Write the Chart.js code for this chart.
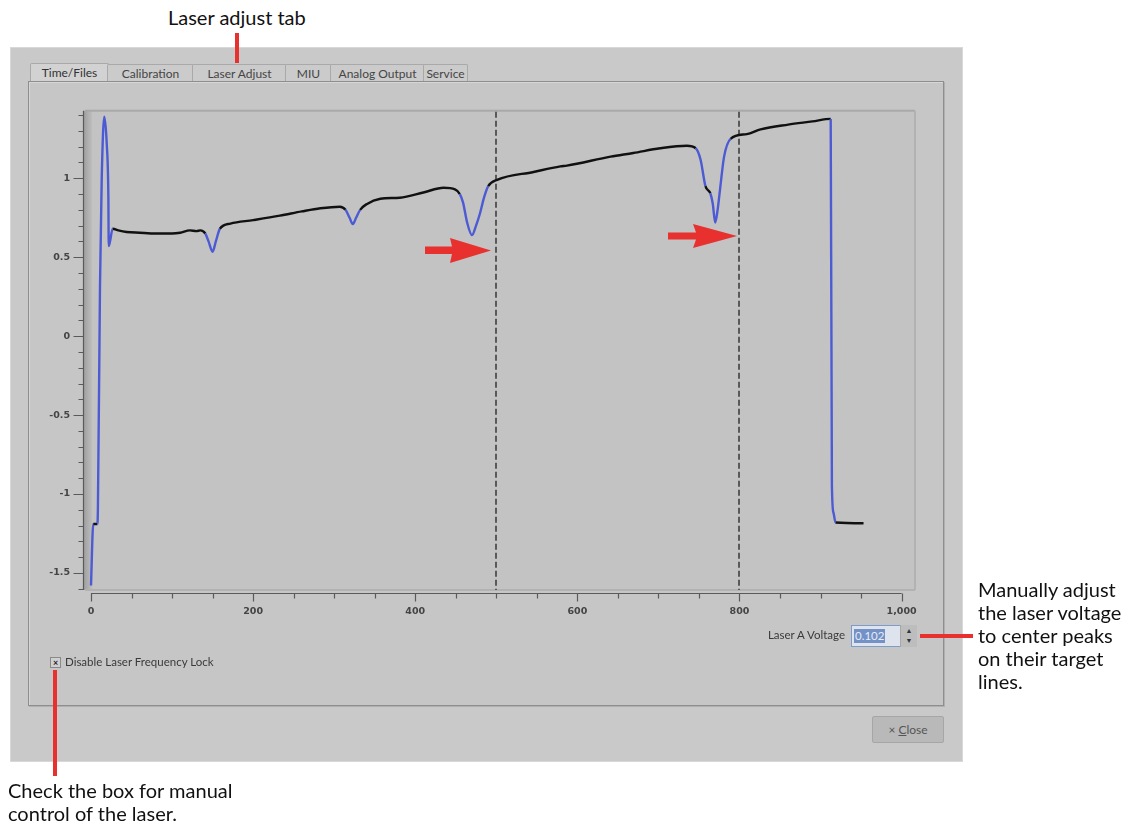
<!DOCTYPE html>
<html>
<head>
<meta charset="utf-8">
<title>Laser Adjust</title>
<script src="https://cdn.jsdelivr.net/npm/chart.js@4.4.0/dist/chart.umd.min.js"></script>
<style>
  body { margin: 0; width: 1134px; height: 823px; background: #fff; position: relative; overflow: hidden; font-family: Lato, "Open Sans", sans-serif; }
  .abs { position: absolute; }
  .note { position: absolute; font-family: Lato, sans-serif; font-size: 20px; line-height: 23px; color: #111; white-space: nowrap; }
  .red { position: absolute; background: #e8312f; z-index: 5; }
  #win { left: 10px; top: 47px; width: 951px; height: 713px; background: #c9c9c9; border: 1px solid #d8d8d8; }
  .tab { position: absolute; top: 64px; height: 17px; border: 1px solid #a9a9a9; border-bottom: none; background: #cbcbcb; font-size: 12px; line-height: 17px; color: #454545; text-align: center; border-radius: 2px 2px 0 0; }
  .tab.on { background: #d2d2d2; top: 63px; height: 18px; color: #333; }
  #panel { left: 28px; top: 81px; width: 914px; height: 623px; background: #c6c6c6; border: 1px solid #8e8e8e; box-shadow: inset 1px 1px 0 #d6d6d6, 1px 1px 0 #b0b0b0; }
  #scan { position: absolute; left: 30px; top: 90px; }
  .ui { position: absolute; font-family: Lato, sans-serif; font-size: 11.5px; color: #3a3a3a; white-space: nowrap; }
</style>
</head>
<body>

<div id="win" class="abs"></div>

<div class="note" style="left:168px; top:6px;">Laser adjust tab</div>
<div class="red" style="left:235px; top:33px; width:4px; height:30px;"></div>

<div class="tab on" style="left:30px; width:77px;">Time/Files</div>
<div class="tab" style="left:107px; width:85px;">Calibration</div>
<div class="tab" style="left:192px; width:93px;">Laser Adjust</div>
<div class="tab" style="left:285px; width:45px;">MIU</div>
<div class="tab" style="left:330px; width:93px;">Analog Output</div>
<div class="tab" style="left:423px; width:43px;">Service</div>

<div id="panel" class="abs"></div>

<canvas id="scan" width="910" height="540"></canvas>

<svg class="abs" style="left:0; top:0; pointer-events:none;" width="1134" height="823">
  <polygon points="425,246.5 452,246.5 450,238 491,250.5 450,263 452,254 425,254" fill="#e8312f"/>
  <polygon points="668,232.5 696,232.5 693,224 737,236 693,248 696,239.5 668,239.5" fill="#e8312f"/>
</svg>

<div class="ui" style="right:289px; top:628px;">Laser A Voltage</div>
<div class="abs" style="left:851px; top:625px; width:48px; height:20px; background:#dde4ee; border:1px solid #7f9cc8;">
  <span class="ui" style="position:absolute; left:2px; top:3px; background:#7391c6; color:#e6ecf6; padding:0 1px; line-height:14px;">0.102</span>
</div>
<div class="abs" style="left:900px; top:625px; width:16px; height:22px; background:#bdbdbd; border-left:1px solid #a8a8a8; font-size:7px; line-height:10px; text-align:center; color:#333;">▲<br>▼</div>

<div class="abs" style="left:50px; top:657px; width:9px; height:9px; background:#d0d0d0; border:1px solid #8a8a8a; font-size:9px; line-height:9px; text-align:center; color:#222; font-weight:bold;">×</div>
<div class="ui" style="left:65px; top:655px;">Disable Laser Frequency Lock</div>

<div class="abs" style="left:872px; top:716px; width:70px; height:25px; background:#b9b9b9; border:1px solid #a6a6a6; border-radius:2px; font-family:Lato,sans-serif; font-size:12px; line-height:25px; text-align:center; color:#555;">×&nbsp;<u>C</u>lose</div>

<div class="note" style="left:978px; top:578px;">Manually adjust<br>the laser voltage<br>to center peaks<br>on their target<br>lines.</div>
<div class="red" style="left:920px; top:634px; width:53px; height:4px;"></div>

<div class="red" style="left:53px; top:670px; width:4px; height:106px;"></div>
<div class="note" style="left:8px; top:779px;">Check the box for manual<br>control of the laser.</div>

<script>
// scan trace (x = sample index, y = detector volts)
const scanX = [0, 2.8, 7.8, 8.5, 11.1, 13.2, 16.4, 19.4, 21.4, 21.9, 26.8, 33.7, 44, 60, 80, 100, 110, 122, 130, 135, 141, 145, 150, 154, 159, 172, 200, 233, 260, 283, 307, 314, 319, 323, 327, 332, 340, 357, 381, 410, 435, 449, 455, 459, 464, 470, 475, 480, 485, 490, 501, 546, 579, 587, 641, 669, 702, 735, 746, 752, 758, 764, 767, 770, 773, 776, 781, 789, 809, 826, 860, 890, 912.5, 914, 916, 918.5, 953];
const scanY = [-1.58, -1.19, -1.19, -1.10, 0.32, 0.99, 1.39, 1.22, 0.89, 0.57, 0.68, 0.67, 0.66, 0.655, 0.65, 0.65, 0.655, 0.67, 0.665, 0.67, 0.65, 0.60, 0.535, 0.60, 0.68, 0.713, 0.735, 0.763, 0.79, 0.81, 0.82, 0.80, 0.75, 0.71, 0.75, 0.80, 0.836, 0.87, 0.877, 0.91, 0.94, 0.93, 0.90, 0.846, 0.72, 0.64, 0.70, 0.78, 0.88, 0.95, 0.99, 1.04, 1.075, 1.08, 1.137, 1.16, 1.19, 1.206, 1.19, 1.117, 0.95, 0.905, 0.84, 0.72, 0.80, 0.93, 1.137, 1.25, 1.28, 1.31, 1.34, 1.36, 1.376, -0.95, -1.12, -1.18, -1.185];

const targetLines = [500, 800];
const xLabels = [0, 200, 400, 600, 800, 1000];
const yLabels = [-1.5, -1, -0.5, 0, 0.5, 1];

const isLabel = (list, v) => list.some(l => Math.abs(l - v) < 1e-6);

// grey plot frame, target lines and hand drawn tick marks
const frame = {
    id: 'frame',
    beforeDraw(chart) {
        const {ctx, chartArea: a} = chart;
        ctx.save();
        ctx.fillStyle = '#c3c3c3';
        ctx.fillRect(a.left, a.top, a.right - a.left, a.bottom - a.top);
        let g = ctx.createLinearGradient(a.left - 1, 0, a.left + 7, 0);
        g.addColorStop(0, '#a0a0a0');
        g.addColorStop(1, '#bdbdbd');
        ctx.fillStyle = g;
        ctx.fillRect(a.left - 1, a.top, 8, a.bottom - a.top);
        ctx.fillStyle = '#a9a9a9';
        ctx.fillRect(a.left, a.top - 1, a.right - a.left, 2);
        ctx.fillStyle = '#b2b2b2';
        ctx.fillRect(a.right - 1, a.top, 2, a.bottom - a.top);
        ctx.fillRect(a.left, a.bottom - 1, a.right - a.left, 2);
        ctx.restore();
    },
    beforeDatasetsDraw(chart) {
        const {ctx, chartArea: a, scales: {x}} = chart;
        ctx.save();
        ctx.strokeStyle = '#595959';
        ctx.lineWidth = 2;
        ctx.setLineDash([6, 3]);
        targetLines.forEach(v => {
            const px = Math.round(x.getPixelForValue(v));
            ctx.beginPath();
            ctx.moveTo(px, a.top + 1);
            ctx.lineTo(px, a.bottom);
            ctx.stroke();
        });
        ctx.restore();
    },
    afterDraw(chart) {
        const {ctx, chartArea: a, scales: {x, y}} = chart;
        ctx.save();
        ctx.strokeStyle = '#5a5a5a';
        ctx.lineWidth = 1.2;
        // y axis
        ctx.beginPath();
        ctx.moveTo(a.left - 1.5, a.top);
        ctx.lineTo(a.left - 1.5, a.bottom);
        y.ticks.forEach(t => {
            const py = Math.round(y.getPixelForValue(t.value)) + 0.5;
            const len = isLabel(yLabels, t.value) ? 10 : 5;
            ctx.moveTo(a.left - 1.5, py);
            ctx.lineTo(a.left - 1.5 - len, py);
        });
        ctx.stroke();
        // x axis, drawn only over 0..1000
        const ay = a.bottom + 3.5;
        ctx.beginPath();
        ctx.moveTo(x.getPixelForValue(0), ay);
        ctx.lineTo(x.getPixelForValue(1000), ay);
        x.ticks.forEach(t => {
            const px = Math.round(x.getPixelForValue(t.value)) + 0.5;
            const len = isLabel(xLabels, t.value) ? 8 : 5;
            ctx.moveTo(px, ay);
            ctx.lineTo(px, ay + len);
        });
        ctx.stroke();
        ctx.restore();
    }
};

const tickFont = {family: 'DejaVu Sans', size: 9.5, weight: 'bold'};

new Chart(document.getElementById('scan'), {
    type: 'line',
    data: {
        datasets: [{
            data: scanX.map((v, i) => ({x: v, y: scanY[i]})),
            borderColor: '#111',
            borderWidth: 2.4,
            pointRadius: 0,
            cubicInterpolationMode: 'monotone',
            segment: {
                // steep flanks show up blue on the instrument screen
                borderColor: c => Math.abs(c.p1.y - c.p0.y) > 1.5 * Math.abs(c.p1.x - c.p0.x) ? '#4c5bd4' : '#111'
            }
        }]
    },
    options: {
        responsive: false,
        animation: false,
        devicePixelRatio: 1,
        layout: {padding: {top: 14, right: 25, left: 0, bottom: 0}},
        plugins: {
            legend: {display: false},
            tooltip: {enabled: false}
        },
        scales: {
            x: {
                type: 'linear',
                min: -7.4,
                max: 1016.5,
                afterFit: s => { s.height = 40; },
                grid: {display: false, drawTicks: false},
                border: {display: false},
                ticks: {
                    stepSize: 50,
                    includeBounds: false,
                    autoSkip: false,
                    maxRotation: 0,
                    padding: 16,
                    color: '#444',
                    font: tickFont,
                    callback: v => isLabel(xLabels, v) ? v.toLocaleString('en-US') : ''
                }
            },
            y: {
                min: -1.608,
                max: 1.428,
                afterFit: s => { s.width = 55; },
                grid: {display: false, drawTicks: false},
                border: {display: false},
                ticks: {
                    stepSize: 0.1,
                    includeBounds: false,
                    autoSkip: false,
                    padding: 15,
                    color: '#444',
                    font: tickFont,
                    callback: v => isLabel(yLabels, v) ? String(Math.round(v * 10) / 10) : ''
                }
            }
        }
    },
    plugins: [frame]
});
</script>
</body>
</html>
